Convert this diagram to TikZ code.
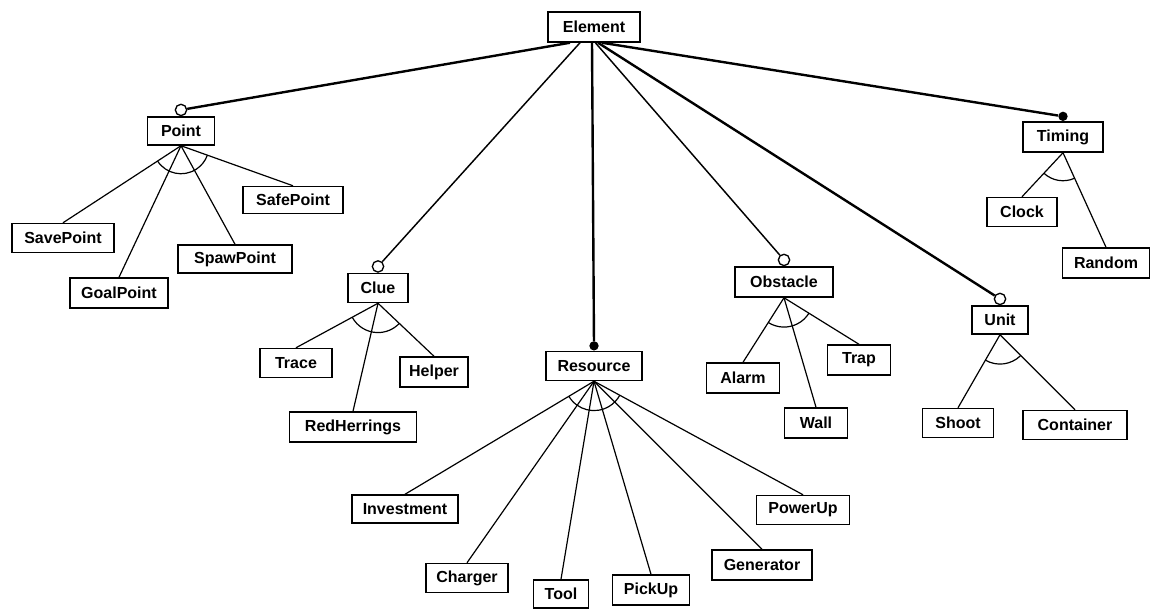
\documentclass[tikz,border=0pt]{standalone}
\usepackage{fontspec}
\setmainfont{Liberation Sans}
\usetikzlibrary{calc}

\tikzset{
  feat/.style 2 args={draw, line width=1.1pt, inner sep=0pt,
    minimum width=#1*0.75pt, minimum height=#2*0.75pt,
    font=\bfseries\fontsize{12}{14}\selectfont},
  sub/.style={line width=0.9pt},
  mand/.style={line width=1.8pt},
  opt/.style={line width=1.1pt},
  optend/.style={circle, draw, line width=1pt, fill=white, inner sep=0pt, minimum size=8.5pt},
  manend/.style={circle, fill=black, inner sep=0pt, minimum size=7pt},
}

% arc across the sub-feature lines of a group: parent, first child, last child, radius
\newcommand\grouparc[4]{%
  \draw[sub] let \p1=($(#2.north)-(#1.south)$), \p2=($(#3.north)-(#1.south)$),
     \n1={atan2(\y1,\x1)}, \n2={atan2(\y2,\x2)} in
     ($(#1.south)+(\n1:#4)$) arc[start angle=\n1, end angle=\n2, radius=#4];
}

\begin{document}
\begin{tikzpicture}[x=0.75pt,y=-0.75pt]
\fill[white] (0,0) rectangle (1155,608);
\useasboundingbox (0,0) rectangle (1155,608);

% root
\node[feat={92}{30}] (element) at (594,27) {Element};

% first level
\node[feat={67}{28}]  (point)    at (181,131)  {Point};
\node[feat={60}{29}]  (clue)     at (378,288)  {Clue};
\node[feat={96}{29}]  (resource) at (594,366)  {Resource};
\node[feat={98}{30}]  (obstacle) at (784,282)  {Obstacle};
\node[feat={56}{28}]  (unit)     at (1000,320) {Unit};
\node[feat={80}{30}]  (timing)   at (1063,137) {Timing};

% Point
\node[feat={102}{29}] (savepoint)  at (63,238)  {SavePoint};
\node[feat={98}{30}]  (goalpoint)  at (119,293) {GoalPoint};
\node[feat={114}{28}] (spawpoint)  at (235,259) {SpawPoint};
\node[feat={100}{27}] (safepoint)  at (293,200) {SafePoint};

% Clue
\node[feat={72}{29}]  (trace)       at (296,363) {Trace};
\node[feat={127}{30}] (redherrings) at (353,427) {RedHerrings};
\node[feat={68}{30}]  (helper)      at (434,372) {Helper};

% Resource
\node[feat={106}{28}] (investment) at (405,509) {Investment};
\node[feat={82}{29}]  (charger)    at (467,578) {Charger};
\node[feat={55}{28}]  (tool)       at (561,594) {Tool};
\node[feat={77}{30}]  (pickup)     at (651,590) {PickUp};
\node[feat={100}{30}] (generator)  at (762,565) {Generator};
\node[feat={93}{29}]  (powerup)    at (803,510) {PowerUp};

% Obstacle
\node[feat={73}{30}] (alarm) at (743,378) {Alarm};
\node[feat={63}{30}] (wall)  at (816,423) {Wall};
\node[feat={63}{30}] (trap)  at (859,360) {Trap};

% Unit
\node[feat={71}{29}]  (shoot)     at (958,423)  {Shoot};
\node[feat={104}{29}] (container) at (1075,425) {Container};

% Timing
\node[feat={70}{29}] (clock)  at (1022,212) {Clock};
\node[feat={87}{30}] (random) at (1106,263) {Random};

% end markers on the first-level features
\node[optend, anchor=south] (pointc)    at (point.north)    {};
\node[optend, anchor=south] (cluec)     at (clue.north)     {};
\node[manend, anchor=south] (resourcec) at (resource.north) {};
\node[optend, anchor=south] (obstaclec) at (obstacle.north) {};
\node[optend, anchor=south] (unitc)     at (unit.north)     {};
\node[manend, anchor=south] (timingc)   at (timing.north)   {};

% start points on the root
\coordinate (e1) at ([xshift=-18pt]element.south);
\coordinate (e2) at ([xshift=-10.5pt]element.south);
\coordinate (e3) at ([xshift=-1.5pt]element.south);
\coordinate (e4) at ([xshift=1pt]element.south);
\coordinate (e5) at ([xshift=3pt]element.south);
\coordinate (e6) at ([xshift=6pt]element.south);

\draw[mand] (e1) -- (pointc);
\draw[opt]  (e2) -- (cluec);
\draw[mand] (e3) -- (resourcec);
\draw[opt]  (e4) -- (obstaclec);
\draw[mand] (e5) -- (unitc);
\draw[mand] (e6) -- (timingc);

% sub-features
\foreach \c in {savepoint,goalpoint,spawpoint,safepoint}
  \draw[sub] (point.south) -- (\c.north);
\foreach \c in {trace,redherrings,helper}
  \draw[sub] (clue.south) -- (\c.north);
\foreach \c in {investment,charger,tool,pickup,generator,powerup}
  \draw[sub] (resource.south) -- (\c.north);
\foreach \c in {alarm,wall,trap}
  \draw[sub] (obstacle.south) -- (\c.north);
\foreach \c in {shoot,container}
  \draw[sub] (unit.south) -- (\c.north);
\foreach \c in {clock,random}
  \draw[sub] (timing.south) -- (\c.north);

% group arcs
\grouparc{point}{savepoint}{safepoint}{21pt}
\grouparc{clue}{trace}{helper}{22pt}
\grouparc{resource}{investment}{powerup}{22pt}
\grouparc{obstacle}{alarm}{trap}{22pt}
\grouparc{unit}{shoot}{container}{22pt}
\grouparc{timing}{clock}{random}{21pt}
\end{tikzpicture}
\end{document}
